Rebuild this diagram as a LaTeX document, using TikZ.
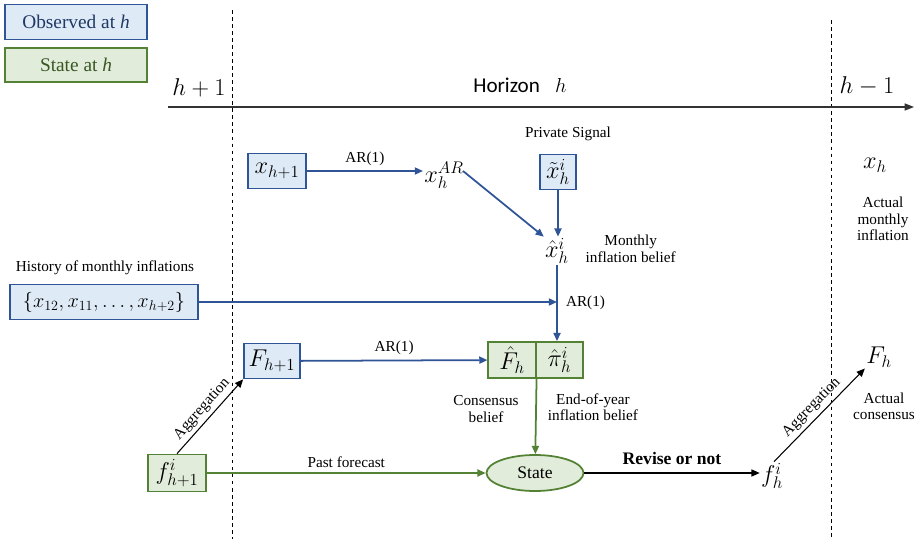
\documentclass[tikz,border=0pt]{standalone}
\usepackage{fontspec}
\setmainfont{Liberation Serif}
\newfontfamily\calibri{Carlito}
\usetikzlibrary{arrows.meta,positioning,shapes.geometric}

\definecolor{obsblue}{RGB}{47,85,151}
\definecolor{obsfill}{RGB}{222,235,247}
\definecolor{obstext}{RGB}{31,56,100}
\definecolor{stgreen}{RGB}{84,130,53}
\definecolor{stfill}{RGB}{226,236,218}
\definecolor{sttext}{RGB}{56,87,35}

\tikzset{
    obsbox/.style={draw=obsblue, fill=obsfill, line width=1.5pt, inner sep=1pt,
        minimum height=1.05cm, font=\fontsize{21}{24}\selectfont},
    statebox/.style={draw=stgreen, fill=stfill, line width=1.5pt, inner sep=1pt,
        minimum height=1.08cm, font=\fontsize{21}{24}\selectfont},
    mathlbl/.style={inner sep=1pt, font=\fontsize{21}{24}\selectfont},
    lbl/.style={inner sep=1pt, align=center, font=\fontsize{13}{14}\selectfont},
    bluearrow/.style={draw=obsblue, line width=1.5pt, -{Triangle[length=7pt,width=6pt]}},
    greenarrow/.style={draw=stgreen, line width=1.5pt, -{Triangle[length=7pt,width=6pt]}},
    blackarrow/.style={draw=black, line width=0.9pt, -{Triangle[length=7pt,width=6pt]}},
}

\begin{document}
\begin{tikzpicture}[x=0.03cm, y=-0.03cm]
    \useasboundingbox (0,0) rectangle (917,539);

% legend
\node[obsbox, minimum width=4.26cm, font=\fontsize{16.5}{18}\selectfont, text=obstext]
    (legobs) at (76,22) {Observed at \textit{h}};
\node[statebox, minimum width=4.26cm, minimum height=1.02cm, font=\fontsize{16.5}{18}\selectfont, text=sttext]
    (legstate) at (76,65) {State at \textit{h}};

% time axis
\draw[dashed, line width=0.8pt] (232,10) -- (232,539);
\draw[dashed, line width=0.8pt] (831,20) -- (831,539);
\draw[line width=1.1pt, black!80, -{Triangle[length=8pt,width=6pt]}] (168,107) -- (914,107);
\node[mathlbl, font=\fontsize{22}{24}\selectfont] (hplus) at (199,88) {$h+1$};
\node[inner sep=1pt, font=\calibri\fontsize{18}{20}\selectfont] (horizon) at (520,85) {Horizon\enspace\ $h$};
\node[mathlbl, font=\fontsize{22}{24}\selectfont] (hminus) at (867,86) {$h-1$};

% monthly inflation block
\node[obsbox, minimum width=1.74cm] (xprev) at (277,171) {$x_{h+1}$};
\node[mathlbl] (xar) at (444,175) {$x_h^{AR}$};
\node[lbl] (privlbl) at (568,134) {Private Signal};
\node[obsbox, minimum width=1.08cm] (xtil) at (558,172) {$\tilde{x}_h^i$};
\node[mathlbl] (xhat) at (557,251) {$\hat{x}_h^i$};
\node[lbl, right=12pt of xhat, yshift=2pt] (monthlbl) {Monthly\\inflation belief};

\draw[bluearrow] (xprev) -- node[lbl, above=3pt] {AR(1)} (xar.west |- xprev);
\draw[bluearrow] (xar.east) ++(-2,-4) -- (xhat.north west);
\draw[bluearrow] (xtil) -- (xtil |- xhat.north);

% history
\node[lbl] (histlbl) at (105,268) {History of monthly inflations};
\node[obsbox, minimum width=5.64cm, font=\fontsize{18.5}{22}\selectfont] (hist) at (104,302) {$\{x_{12},x_{11},\ldots,x_{h+2}\}$};

% end-of-year beliefs
\node[obsbox, minimum width=1.68cm] (Fprev) at (272,361) {$F_{h+1}$};
\node[statebox, minimum width=1.42cm] (Fhat) at (512,360) {$\hat{F}_h$};
\node[statebox, minimum width=1.42cm, right=-1.5pt of Fhat] (pihat) {$\hat{\pi}_h^i$};
\node[lbl] (conslbl) at (486,409) {Consensus\\belief};
\node[lbl] (eoylbl) at (593,407) {End-of-year\\inflation belief};

\coordinate (histend) at (xhat.south |- hist.east);
\draw[bluearrow] (hist) -- (histend);
\draw[bluearrow] (xhat) -- node[lbl, right=6pt] {AR(1)} (xhat.south |- pihat.north);
\draw[bluearrow] (Fprev) -- node[lbl, above=3pt] {AR(1)} (Fhat);

% state and revision
\node[ellipse, draw=stgreen, fill=stfill, line width=1.5pt, minimum width=2.91cm,
    minimum height=1.08cm, font=\fontsize{15}{16}\selectfont] (state) at (535,473) {State};
\node[statebox, minimum width=1.74cm, minimum height=1.11cm] (fprev) at (177,473) {$f_{h+1}^i$};
\node[mathlbl] (fnow) at (772,476) {$f_h^i$};

\draw[greenarrow] (Fhat.south east) -- (state);
\draw[greenarrow] (fprev) -- node[lbl, above=3pt] {Past forecast} (state);
\draw[blackarrow] (fprev.north) -- node[lbl, sloped, above=2pt] {Aggregation} (Fprev.south west);
\draw[blackarrow, line width=1.1pt] (state) -- node[above=3pt, font=\bfseries\fontsize{15}{16}\selectfont] {Revise or not} (fnow.west |- state);

% realised values
\node[mathlbl] (xnow) at (875,165) {$x_h$};
\node[lbl] (xnowlbl) at (883,219) {Actual\\monthly\\inflation};
\node[mathlbl] (Fnow) at (879,357) {$F_h$};
\node[lbl] (Fnowlbl) at (884,406) {Actual\\consensus};

\draw[blackarrow] (fnow.north) ++(2,0) -- node[lbl, sloped, above=2pt] {Aggregation} (Fnow.south west);

\end{tikzpicture}
\end{document}
